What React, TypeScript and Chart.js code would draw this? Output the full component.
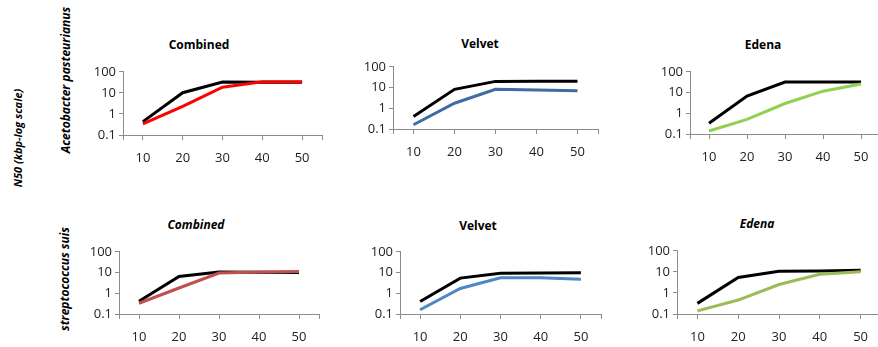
import React, { useEffect, useRef } from "react";
import { Chart, registerables } from "chart.js";

Chart.register(...registerables);

// ---------- data ----------
const kmerSizes = [10, 20, 30, 40, 50];
const yTickValues = [0.1, 1, 10, 100];
const yTickLabels = ["0.1", "1", "10", "100"];

// Acetobacter pasteurianus
const acetoCombinedBlack = [0.43, 10.2, 33, 32, 32];
const acetoCombinedColor = [0.34, 2.3, 18.6, 34, 34];
const acetoVelvetBlack = [0.4, 8.2, 19.8, 20, 20];
const acetoVelvetColor = [0.16, 1.75, 8.2, 7.6, 7.0];
const acetoEdenaBlack = [0.33, 6.8, 32, 32, 32];
const acetoEdenaColor = [0.14, 0.51, 2.95, 11.6, 26];

// streptococcus suis
const streptoCombinedBlack = [0.41, 6.5, 10.5, 10.3, 10.0];
const streptoCombinedColor = [0.33, 1.8, 9.4, 10.5, 11.2];
const streptoVelvetBlack = [0.4, 5.4, 9.2, 9.4, 9.8];
const streptoVelvetColor = [0.16, 1.7, 5.6, 5.6, 4.7];
const streptoEdenaBlack = [0.32, 5.4, 10.6, 11.0, 11.9];
const streptoEdenaColor = [0.14, 0.46, 2.5, 7.7, 10.2];

const rowLabels = ["Acetobacter pasteurianus", "streptococcus suis"];
const yAxisTitle = "N50 (kbp-log scale)";

// ---------- layout ----------
const FONT = "'Open Sans', 'DejaVu Sans', sans-serif";
const AXIS_COLOR = "#8c8c8c";
const YW = 44; // y axis width
const XH = 34; // x axis height
const TP = 10; // top padding
const RP = 8; // right padding

type PanelSpec = {
  left: number;
  top: number;
  w: number;
  h: number;
  black: number[];
  color: number[];
  lineColor: string;
  title: string;
  italic: boolean;
  tx: number;
  ty: number;
};

const panels: PanelSpec[] = [
  { left: 122.6, top: 71, w: 201.2, h: 64.3, black: acetoCombinedBlack, color: acetoCombinedColor, lineColor: "#ff0000", title: "Combined", italic: false, tx: 199, ty: 44 },
  { left: 392.6, top: 65.7, w: 206.7, h: 62.6, black: acetoVelvetBlack, color: acetoVelvetColor, lineColor: "#3e6ca3", title: "Velvet", italic: false, tx: 480, ty: 43 },
  { left: 689.8, top: 71, w: 192, h: 63.3, black: acetoEdenaBlack, color: acetoEdenaColor, lineColor: "#92d050", title: "Edena", italic: false, tx: 763, ty: 44 },
  { left: 119.1, top: 251, w: 202, h: 63.3, black: streptoCombinedBlack, color: streptoCombinedColor, lineColor: "#c0504d", title: "Combined", italic: true, tx: 196, ty: 224 },
  { left: 399.7, top: 251, w: 203.4, h: 63.3, black: streptoVelvetBlack, color: streptoVelvetColor, lineColor: "#4f86c6", title: "Velvet", italic: false, tx: 478, ty: 225 },
  { left: 677.4, top: 250.3, w: 206, h: 63.7, black: streptoEdenaBlack, color: streptoEdenaColor, lineColor: "#9bbb59", title: "Edena", italic: true, tx: 757, ty: 223 },
];

function Panel({ p }: { p: PanelSpec }) {
  const ref = useRef<HTMLCanvasElement | null>(null);
  const cw = Math.round(YW + p.w + RP);
  const ch = Math.round(TP + p.h + XH);
  useEffect(() => {
    if (!ref.current) return;
    const chart = new Chart(ref.current, {
      type: "line",
      data: {
        datasets: [
          {
            data: kmerSizes.map((k, i) => ({ x: k, y: p.color[i] })),
            borderColor: p.lineColor,
            borderWidth: 3,
            pointRadius: 0,
            tension: 0,
            fill: false,
          },
          {
            data: kmerSizes.map((k, i) => ({ x: k, y: p.black[i] })),
            borderColor: "#000000",
            borderWidth: 3,
            pointRadius: 0,
            tension: 0,
            fill: false,
          },
        ],
      },
      options: {
        animation: false,
        responsive: false,
        devicePixelRatio: 1,
        layout: { padding: { top: TP, right: RP, left: 0, bottom: 0 } },
        plugins: { legend: { display: false }, tooltip: { enabled: false }, title: { display: false } },
        scales: {
          x: {
            type: "linear",
            min: 5,
            max: 55,
            afterBuildTicks: (scale: any) => {
              scale.ticks = [5, ...kmerSizes, 55].map((v) => ({ value: v }));
            },
            afterFit: (scale: any) => {
              scale.height = XH;
            },
            ticks: {
              autoSkip: false,
              maxRotation: 0,
              padding: 10,
              color: "#222",
              font: { family: FONT, size: 13 },
              callback: (v: any) => (kmerSizes.includes(Number(v)) ? String(v) : ""),
            },
            grid: { drawOnChartArea: false, drawTicks: true, tickLength: 5, color: AXIS_COLOR },
            border: { display: true, color: AXIS_COLOR, width: 1 },
          },
          y: {
            type: "logarithmic",
            min: 0.1,
            max: 100,
            afterBuildTicks: (scale: any) => {
              scale.ticks = yTickValues.map((v) => ({ value: v }));
            },
            afterFit: (scale: any) => {
              scale.width = YW;
            },
            ticks: {
              autoSkip: false,
              padding: 3,
              color: "#222",
              font: { family: FONT, size: 13 },
              callback: (v: any) => {
                const i = yTickValues.indexOf(Number(v));
                return i >= 0 ? yTickLabels[i] : "";
              },
            },
            grid: { drawOnChartArea: false, drawTicks: true, tickLength: 4, color: AXIS_COLOR },
            border: { display: true, color: AXIS_COLOR, width: 1 },
          },
        },
      } as any,
    });
    return () => chart.destroy();
  }, [p]);
  return (
    <>
      <canvas
        ref={ref}
        width={cw}
        height={ch}
        style={{ position: "absolute", left: p.left - YW, top: p.top - TP, width: cw, height: ch }}
      />
      <div
        style={{
          position: "absolute",
          left: p.tx,
          top: p.ty,
          transform: "translate(-50%, -50%)",
          fontFamily: FONT,
          fontWeight: 700,
          fontStyle: p.italic ? "italic" : "normal",
          fontSize: 12,
          color: "#000",
          whiteSpace: "nowrap",
        }}
      >
        {p.title}
      </div>
    </>
  );
}

function RotatedLabel({ text, x, y, size }: { text: string; x: number; y: number; size: number }) {
  return (
    <div
      style={{
        position: "absolute",
        left: x,
        top: y,
        transform: "translate(-50%, -50%) rotate(-90deg)",
        fontFamily: FONT,
        fontWeight: 700,
        fontStyle: "italic",
        fontSize: size,
        color: "#000",
        whiteSpace: "nowrap",
      }}
    >
      {text}
    </div>
  );
}

export default function App() {
  return (
    <div
      style={{
        position: "fixed",
        left: 0,
        top: 0,
        width: 878,
        height: 347,
        background: "#fff",
        overflow: "hidden",
      }}
    >
      {panels.map((p, i) => (
        <Panel key={i} p={p} />
      ))}
      <RotatedLabel text={yAxisTitle} x={17} y={138} size={11} />
      <RotatedLabel text={rowLabels[0]} x={65} y={80} size={12} />
      <RotatedLabel text={rowLabels[1]} x={64} y={279} size={12} />
    </div>
  );
}
